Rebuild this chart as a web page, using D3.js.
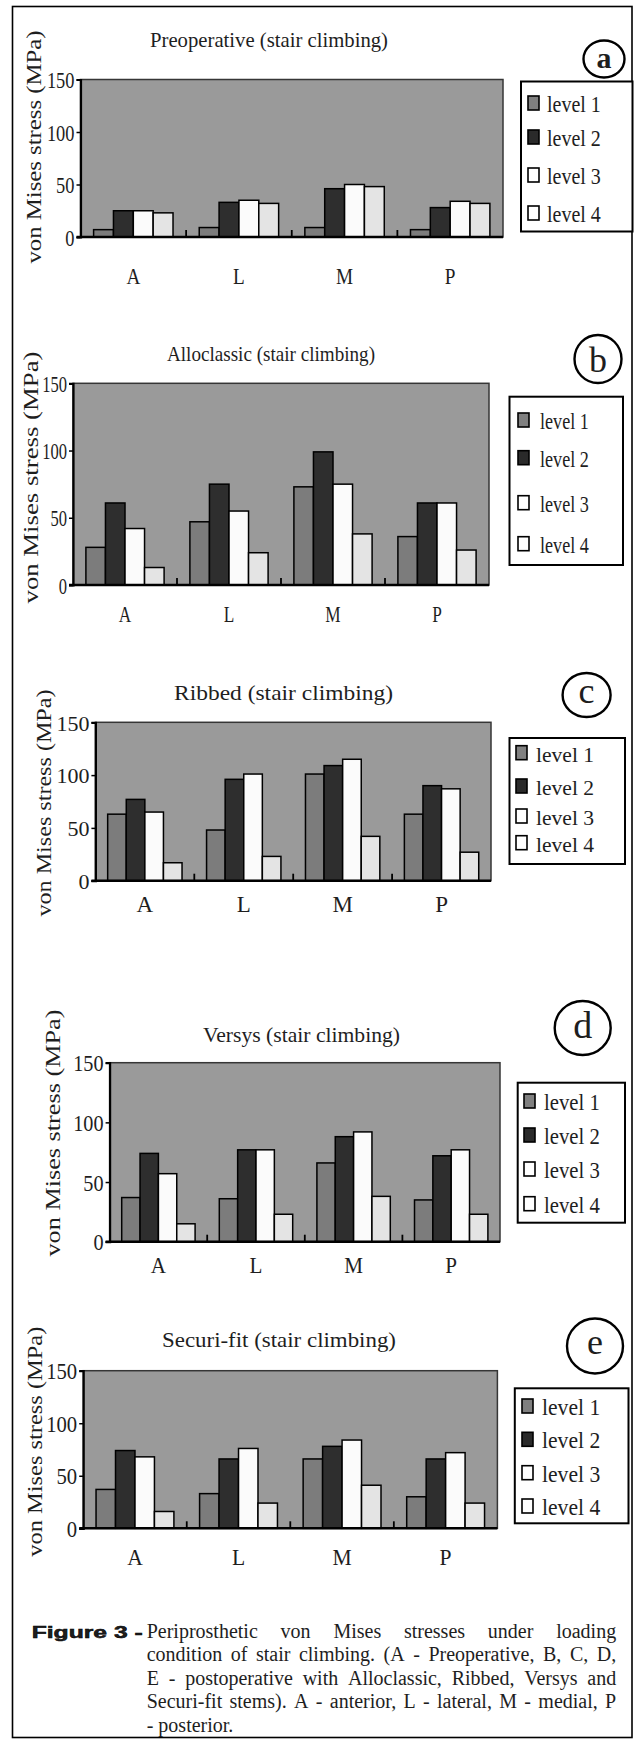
<!DOCTYPE html>
<html>
<head>
<meta charset="utf-8">
<script src="https://cdn.jsdelivr.net/npm/d3@7"></script>
<style>
  body { margin: 0; background: #fff; }
  svg { display: block; }
  text { font-family: 'Liberation Serif', 'Times New Roman', serif; fill: #1e1e1e; }
</style>
</head>
<body>
<div id="chart"></div>
<script>
const categories = ['A', 'L', 'M', 'P'];
const levels = ['level 1', 'level 2', 'level 3', 'level 4'];
const yTicks = [0, 50, 100, 150];
const yLabel = 'von Mises stress (MPa)';
const panelTitles = [
  'Preoperative (stair climbing)',
  'Alloclassic (stair climbing)',
  'Ribbed (stair climbing)',
  'Versys (stair climbing)',
  'Securi-fit (stair climbing)'
];
const panelLetters = ['a', 'b', 'c', 'd', 'e'];

// stress (MPa) per category A, L, M, P -> levels 1..4
const preoperative = [[7, 25, 25, 23], [9, 33, 35, 32], [9, 46, 50, 48], [7, 28, 34, 32]];
const alloclassic = [[28, 61, 42, 13], [47, 75, 55, 24], [73, 99, 75, 38], [36, 61, 61, 26]];
const ribbed = [[63, 77, 65, 17], [48, 96, 101, 23], [101, 109, 115, 42], [63, 90, 87, 27]];
const versys = [[37, 74, 57, 15], [36, 77, 77, 23], [66, 88, 92, 38], [35, 72, 77, 23]];
const securiFit = [[37, 74, 68, 16], [33, 66, 76, 24], [66, 78, 84, 41], [30, 66, 72, 24]];

const captionHead = 'Figure 3 -';
const captionLines = [
  'Periprosthetic von Mises stresses under loading',
  'condition of stair climbing. (A - Preoperative, B, C, D,',
  'E - postoperative with Alloclassic, Ribbed, Versys and',
  'Securi-fit stems). A - anterior, L - lateral, M - medial, P',
  '- posterior.'
];

const W = 637, H = 1740;
const datasets = [preoperative, alloclassic, ribbed, versys, securiFit];
const barFill = ['#7c7c7c', '#2e2e2e', '#fbfbfb', '#e4e4e4'];
const markFill = ['#808080', '#2a2a2a', '#ffffff', '#ffffff'];

// panel geometry
const layout = [
  { x0: 80.5, x1: 503, top: 79.5, zero: 237, title: [269, 46.5, 238], circ: [604, 59, 20.5, 18.5], letter: [68, 30, 'bold'],
    ylab: [41, 147, 233], catY: 284, fs: 23, sx: 0.8,
    box: [521, 81.5, 632.5, 231.5], legY: [112, 146, 184, 222], markX: 528, textX: 547, lsx: 0.87, lfs: 23 },
  { x0: 73, x1: 489, top: 383.3, zero: 585, title: [271, 360.7, 208], circ: [598, 359, 23.5, 24], letter: [372, 36, 'normal'],
    ylab: [38, 477.5, 252], catY: 622, fs: 23, sx: 0.72,
    box: [509.5, 396.7, 623, 565], legY: [429, 466.7, 511.7, 552.7], markX: 518, textX: 540, lsx: 0.79, lfs: 23 },
  { x0: 95.4, x1: 491, top: 722.3, zero: 880.7, title: [283.5, 700, 219], circ: [586.6, 695, 24, 22], letter: [703, 36, 'normal'],
    ylab: [51, 803, 227], catY: 912, fs: 22, sx: 1.0,
    box: [509.5, 738, 625, 864], legY: [761.7, 795, 825, 851.7], markX: 516, textX: 536, lsx: 0.98, lfs: 22 },
  { x0: 109.6, x1: 500, top: 1062.7, zero: 1241.7, title: [301.5, 1041.7, 197], circ: [582.7, 1028, 28, 27], letter: [1038, 38, 'normal'],
    ylab: [60, 1133, 247], catY: 1273, fs: 23, sx: 0.88,
    box: [517.7, 1082.7, 625, 1222.7], legY: [1110, 1144, 1178, 1212.7], markX: 524, textX: 544, lsx: 0.9, lfs: 23 },
  { x0: 83.2, x1: 497.4, top: 1370.7, zero: 1528.3, title: [279, 1346.5, 234], circ: [595, 1346, 28, 27.5], letter: [1354, 36, 'normal'],
    ylab: [42, 1441.7, 230], catY: 1565, fs: 23, sx: 0.9,
    box: [514.8, 1388.3, 628.5, 1523.3], legY: [1415, 1448.3, 1481.7, 1515], markX: 522, textX: 542, lsx: 0.94, lfs: 23 }
];

const svg = d3.select('#chart')
  .append('svg')
    .attr('width', W)
    .attr('height', H);

svg.append('rect')
  .attr('x', 12.5).attr('y', 6.5)
  .attr('width', 619.5).attr('height', 1731)
  .attr('fill', '#fff')
  .attr('stroke', '#000')
  .attr('stroke-width', 1.6);

datasets.forEach((data, i) => {
  const L = layout[i];
  const g = svg.append('g');

  const x0 = d3.scaleBand().domain(categories).range([L.x0, L.x1]).padding(0);
  const x1 = d3.scaleBand().domain(levels).range([0, x0.bandwidth()]).paddingInner(0).paddingOuter(0.66);
  const y = d3.scaleLinear().domain([0, 150]).range([L.zero, L.top]);

  // plot background
  g.append('rect')
    .attr('x', L.x0).attr('y', y(150))
    .attr('width', L.x1 - L.x0).attr('height', y(0) - y(150))
    .attr('fill', '#9a9a9a')
    .attr('stroke', '#363636')
    .attr('stroke-width', 1.5);

  // bars
  g.selectAll('g.cat')
    .data(data)
    .join('g')
      .attr('class', 'cat')
      .attr('transform', (d, j) => `translate(${x0(categories[j])},0)`)
    .selectAll('rect')
    .data(d => d)
    .join('rect')
      .attr('x', (v, k) => x1(levels[k]))
      .attr('y', v => y(v))
      .attr('width', x1.bandwidth())
      .attr('height', v => y(0) - y(v))
      .attr('fill', (v, k) => barFill[k])
      .attr('stroke', '#000')
      .attr('stroke-width', 1.5);

  // y axis
  const yAxis = g.append('g')
    .attr('transform', `translate(${L.x0},0)`)
    .call(d3.axisLeft(y).tickValues(yTicks).tickSize(4).tickPadding(2));
  yAxis.select('.domain').attr('stroke', '#000').attr('stroke-width', 2.2);
  yAxis.selectAll('.tick line').attr('stroke', '#000').attr('stroke-width', 1.5);
  yAxis.selectAll('.tick text')
    .attr('x', null)
    .attr('dy', '0.35em')
    .attr('font-size', L.fs)
    .attr('font-family', "'Liberation Serif', serif")
    .attr('fill', '#1a1a1a')
    .attr('transform', `translate(-6,0) scale(${L.sx},1)`);

  // x axis line and inner ticks between groups
  g.append('line')
    .attr('x1', L.x0 - 4).attr('x2', L.x1)
    .attr('y1', y(0)).attr('y2', y(0))
    .attr('stroke', '#000').attr('stroke-width', 2.5);
  g.selectAll('line.xt')
    .data(categories.slice(1))
    .join('line')
      .attr('class', 'xt')
      .attr('x1', c => x0(c)).attr('x2', c => x0(c))
      .attr('y1', y(0)).attr('y2', y(0) - 7)
      .attr('stroke', '#000').attr('stroke-width', 1.8);

  // category labels
  g.selectAll('text.cat')
    .data(categories)
    .join('text')
      .attr('class', 'cat')
      .attr('transform', c => `translate(${x0(c) + x0.bandwidth() / 2},${L.catY}) scale(${L.sx},1)`)
      .attr('text-anchor', 'middle')
      .attr('font-size', L.fs + 1)
      .text(c => c);

  // y label
  g.append('text')
    .attr('transform', `translate(${L.ylab[0]},${L.ylab[1]}) rotate(-90)`)
    .attr('text-anchor', 'middle')
    .attr('font-size', 20)
    .attr('textLength', L.ylab[2])
    .attr('lengthAdjust', 'spacingAndGlyphs')
    .text(yLabel);

  // title
  g.append('text')
    .attr('x', L.title[0] - L.title[2] / 2)
    .attr('y', L.title[1])
    .attr('font-size', 22)
    .attr('textLength', L.title[2])
    .attr('lengthAdjust', 'spacingAndGlyphs')
    .text(panelTitles[i]);

  // panel letter
  g.append('ellipse')
    .attr('cx', L.circ[0]).attr('cy', L.circ[1])
    .attr('rx', L.circ[2]).attr('ry', L.circ[3])
    .attr('fill', '#fff').attr('stroke', '#000').attr('stroke-width', 2.4);
  g.append('text')
    .attr('x', L.circ[0]).attr('y', L.letter[0])
    .attr('text-anchor', 'middle')
    .attr('font-size', L.letter[1])
    .attr('font-weight', L.letter[2])
    .attr('fill', '#111')
    .text(panelLetters[i]);

  // legend
  const [bx0, by0, bx1, by1] = L.box;
  g.append('rect')
    .attr('x', bx0).attr('y', by0)
    .attr('width', bx1 - bx0).attr('height', by1 - by0)
    .attr('fill', '#fff').attr('stroke', '#000').attr('stroke-width', 2);
  const items = g.selectAll('g.leg')
    .data(levels)
    .join('g')
      .attr('class', 'leg');
  items.append('rect')
    .attr('x', L.markX)
    .attr('y', (d, k) => L.legY[k] - 16)
    .attr('width', 11).attr('height', 14)
    .attr('fill', (d, k) => markFill[k])
    .attr('stroke', '#000').attr('stroke-width', 1.6);
  items.append('text')
    .attr('transform', (d, k) => `translate(${L.textX},${L.legY[k]}) scale(${L.lsx},1)`)
    .attr('font-size', L.lfs)
    .text(d => d);
});

// caption
svg.append('text')
  .attr('x', 31.7).attr('y', 1638)
  .attr('font-family', "'Liberation Sans', Arial, sans-serif")
  .attr('font-weight', 'bold')
  .attr('font-size', 16)
  .attr('fill', '#000')
  .attr('stroke', '#000').attr('stroke-width', 0.5)
  .attr('textLength', 111)
  .attr('lengthAdjust', 'spacingAndGlyphs')
  .style('font-family', "'Liberation Sans', Arial, sans-serif")
  .text(captionHead);

const capX = 146.7, capW = 469.5, capFs = 20, capTop = 1638, capLead = 23.4;
const cap = svg.append('g').attr('font-size', capFs).attr('fill', '#1a1a1a');
captionLines.forEach((line, li) => {
  const words = line.split(' ');
  const yPos = capTop + li * capLead;
  const nodes = words.map(w => cap.append('text').attr('y', yPos).text(w));
  const widths = nodes.map(n => n.node().getComputedTextLength());
  const last = li === captionLines.length - 1;
  const gap = last ? capFs * 0.25 : (capW - d3.sum(widths)) / (words.length - 1);
  let xPos = capX;
  nodes.forEach((n, k) => {
    n.attr('x', xPos);
    xPos += widths[k] + gap;
  });
});
</script>
</body>
</html>
